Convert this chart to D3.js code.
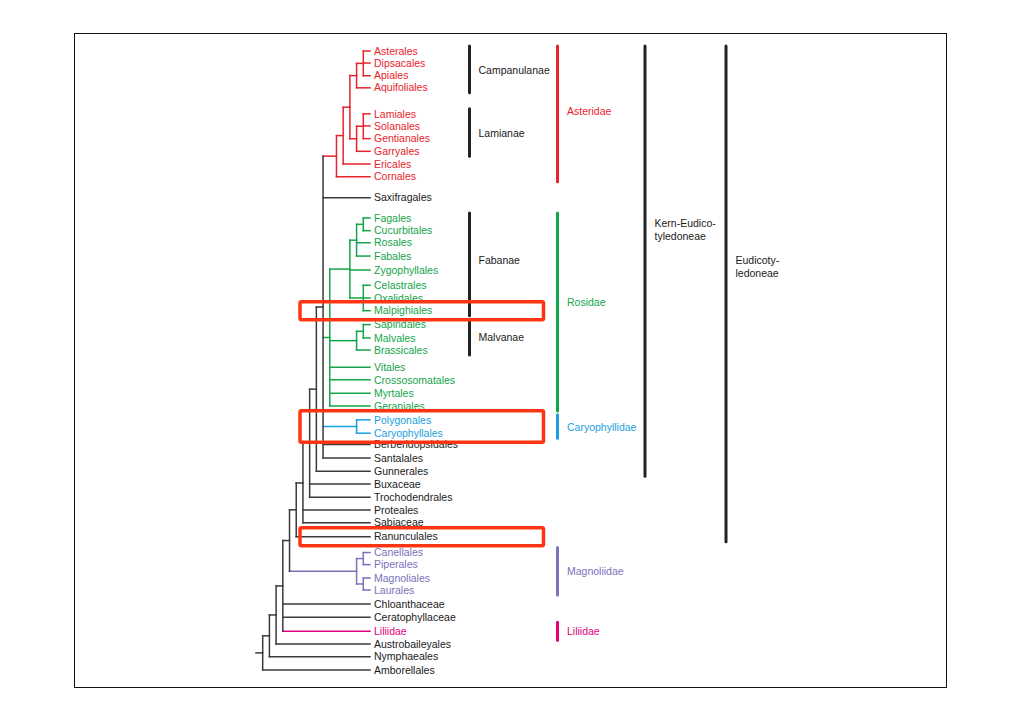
<!DOCTYPE html>
<html><head><meta charset="utf-8">
<script src="https://cdn.jsdelivr.net/npm/d3@7"></script>
<style>
body{margin:0;background:#fff}
svg{display:block}
text{font-family:"Liberation Sans",Arial,Helvetica,sans-serif}
</style>
</head><body>
<svg id="c" width="1020" height="720"></svg>
<script>
// ---------- DATA ----------
const leafNames = ["Asterales","Dipsacales","Apiales","Aquifoliales","Lamiales","Solanales","Gentianales","Garryales","Ericales","Cornales",
  "Saxifragales","Fagales","Cucurbitales","Rosales","Fabales","Zygophyllales","Celastrales","Oxalidales","Malpighiales",
  "Sapindales","Malvales","Brassicales","Vitales","Crossosomatales","Myrtales","Geraniales","Polygonales","Caryophyllales",
  "Berberidopsidales","Santalales","Gunnerales","Buxaceae","Trochodendrales","Proteales","Sabiaceae","Ranunculales",
  "Canellales","Piperales","Magnoliales","Laurales","Chloanthaceae","Ceratophyllaceae","Liliidae","Austrobaileyales",
  "Nymphaeales","Amborellales"];
const leafRows = [0,0.95,1.95,2.9,4.95,5.9,6.9,7.9,8.9,9.9,
  11.55,13.15,14.15,15.1,16.15,17.25,18.45,19.45,20.45,
  21.55,22.6,23.55,24.9,25.9,26.95,27.95,29.05,30.1,
  31.0,32.05,33.1,34.1,35.15,36.15,37.15,38.25,
  39.5,40.45,41.5,42.45,43.55,44.6,45.7,46.7,
  47.7,48.75];
const leafParents = ["camp1","camp1","camp1","camp","lam1","lam1","lam1","lam","ast1","ast",
  "n9","fab3","fab3","fab1","fab1","fab","fab2","fab2","fab2",
  "malv1","malv1","malv","ros","ros","ros","ros","car","car",
  "n9","n9","n8","n7","n7","n6","n6","n5",
  "mag1","mag1","mag2","mag2","n3","n3","n3","n2",
  "n1","root"];
const leafLevel = 16;

const nodeIds     = ["root","n1","n2","n3","n4","mag","mag1","mag2","n5","n6","n7","n8","n9",
  "ast","ast1","ast2","camp","camp1","lam","lam1","ros","fab","fab1","fab3","fab2","malv","malv1","car"];
const nodeParents = ["","root","n1","n2","n3","n4","mag","mag","n4","n5","n6","n7","n8",
  "n9","ast","ast1","ast2","camp","ast2","lam","n9","ros","fab","fab1","fab","ros","malv","n9"];
const nodeLevels  = [0,1,2,3,4,14,15,15,5,6,7,8,9,
  11,12,13,14,15,14,15,10,13,14,15,15,14,15,14];

const cladeRoots  = ["ast","ros","car","mag","Liliidae"];
const cladeColors = ["#e8232a","#13a54a","#1b9fe0","#7a72bd","#e4007c"];

// groups (orders) - black bars
const groupNames  = ["Campanulanae","Lamianae","Fabanae","Malvanae"];
const groupFrom   = ["Asterales","Lamiales","Fagales","Sapindales"];
const groupTo     = ["Aquifoliales","Garryales","Malpighiales","Brassicales"];
const groupLabelRows = [1.5,6.45,16.45,22.55];

// subclasses - coloured bars
const subNames  = ["Asteridae","Rosidae","Caryophyllidae","Magnoliidae","Liliidae"];
const subFrom   = ["Asterales","Fagales","Polygonales","Canellales","Liliidae"];
const subTo     = ["Cornales","Geraniales","Caryophyllales","Laurales","Liliidae"];
const subLabelRows = [4.75,19.8,29.6,40.95,45.7];

// large clades
const bigNames  = [["Kern-Eudico-","tyledoneae"],["Eudicoty-","ledoneae"]];
const bigFrom   = ["Asterales","Asterales"];
const bigTo     = ["Gunnerales","Ranunculales"];
const bigLabelRows = [14.1,17.0];

// highlighted rows
const hiFrom = ["Malpighiales","Polygonales","Ranunculales"];
const hiTo   = ["Malpighiales","Caryophyllales","Ranunculales"];

// ---------- LAYOUT ----------
const svg = d3.select("#c");
const x = d3.scaleLinear().domain([0, leafLevel]).range([262.7, 370]);
const y = d3.scaleLinear().domain([0, 48.75]).range([51, 670]);
const rowOf = {}; leafNames.forEach((n,i)=>rowOf[n]=leafRows[i]);

const table = nodeIds.map((id,i)=>({id, parentId: nodeParents[i]||null, level: nodeLevels[i], leaf:false}))
  .concat(leafNames.map((n,i)=>({id:n, parentId:leafParents[i], level:leafLevel, row:leafRows[i], leaf:true})));
const root = d3.stratify().id(d=>d.id).parentId(d=>d.parentId)(table);

root.eachAfter(n=>{
  if (!n.children) n.py = y(n.data.row);
  else {
    const e = d3.extent(n.children, c=>c.py);
    n.py = (e[0]+e[1])/2; n.ymin = e[0]; n.ymax = e[1];
  }
});
const dark = "#3a3a3a";
root.eachBefore(n=>{
  const k = cladeRoots.indexOf(n.data.id);
  n.color = k>=0 ? cladeColors[k] : (n.parent ? n.parent.color : dark);
});

// frame
svg.append("rect").attr("x",74.5).attr("y",33.5).attr("width",872).attr("height",654)
  .attr("fill","none").attr("stroke","#111").attr("stroke-width",1);

const gTree = svg.append("g").attr("stroke-width",1.5).attr("stroke-linecap","square").attr("fill","none");
// horizontal branches
root.descendants().forEach(n=>{
  const x0 = n.parent ? x(n.parent.data.level) : x(-1);
  gTree.append("line").attr("x1",x0).attr("x2",x(n.data.level))
    .attr("y1",n.py).attr("y2",n.py).attr("stroke",n.color);
});
// vertical connectors
root.descendants().filter(n=>n.children).forEach(n=>{
  gTree.append("line").attr("x1",x(n.data.level)).attr("x2",x(n.data.level))
    .attr("y1",n.ymin).attr("y2",n.ymax).attr("stroke",n.color);
});
// leaf labels
root.leaves().forEach(n=>{
  svg.append("text").attr("x",x(leafLevel)+4).attr("y",n.py).attr("dy","0.35em")
    .attr("font-size",10.5).attr("fill", n.color===dark ? "#1a1a1a" : n.color).text(n.data.id);
});

// bars
function bar(xPos, from, to, color, width){
  let y0 = y(rowOf[from])-5, y1 = y(rowOf[to])+5;
  if (y1-y0 < 18){ const m=(y0+y1)/2; y0=m-9; y1=m+9; }
  svg.append("line").attr("x1",xPos).attr("x2",xPos).attr("y1",y0).attr("y2",y1)
    .attr("stroke",color).attr("stroke-width",width).attr("stroke-linecap","round");
}
groupNames.forEach((nm,i)=>{
  bar(469.5, groupFrom[i], groupTo[i], "#222", 3);
  svg.append("text").attr("x",478.5).attr("y",y(groupLabelRows[i])).attr("dy","0.35em")
    .attr("font-size",10.5).attr("fill","#1a1a1a").text(nm);
});
subNames.forEach((nm,i)=>{
  const c = cladeColors[cladeRoots.indexOf(["ast","ros","car","mag","Liliidae"][i])];
  bar(557.5, subFrom[i], subTo[i], c, 3);
  svg.append("text").attr("x",567).attr("y",y(subLabelRows[i])).attr("dy","0.35em")
    .attr("font-size",10.5).attr("fill",c).text(nm);
});
const bigX = [645, 726];
bigNames.forEach((lines,i)=>{
  bar(bigX[i], bigFrom[i], bigTo[i], "#222", 3);
  const t = svg.append("text").attr("x",bigX[i]+9.5).attr("y",y(bigLabelRows[i]))
    .attr("font-size",10.5).attr("fill","#1a1a1a");
  lines.forEach((l,j)=>t.append("tspan").attr("x",bigX[i]+9.5)
    .attr("dy", j===0 ? (-(lines.length-1)*0.6+0.35)+"em" : "1.2em").text(l));
});

// highlight boxes
hiFrom.forEach((f,i)=>{
  const y0 = y(rowOf[f])-9, y1 = y(rowOf[hiTo[i]])+9;
  svg.append("rect").attr("x",300).attr("y",y0).attr("width",243.5).attr("height",y1-y0)
    .attr("rx",1.5).attr("fill","none").attr("stroke","#ff3412").attr("stroke-width",3.5);
});
</script>
</body></html>
